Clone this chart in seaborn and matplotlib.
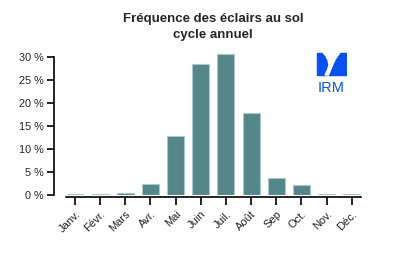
import matplotlib
matplotlib.use("Agg")
import matplotlib.pyplot as plt
import seaborn as sns
import pandas as pd
from matplotlib.patches import Rectangle, Polygon

mois = ["Janv.", "Févr.", "Mars", "Avr.", "Mai", "Juin", "Juil.", "Août", "Sep", "Oct.", "Nov.", "Déc."]
frequence = [0.2, 0.2, 0.5, 2.5, 12.8, 28.4, 30.7, 17.9, 3.8, 2.2, 0.2, 0.2]
yticks = [0, 5, 10, 15, 20, 25, 30]
ytick_labels = ["0 %", "5 %", "10 %", "15 %", "20 %", "25 %", "30 %"]

sns.set_style("white")
plt.rcParams["font.family"] = ["Liberation Sans", "DejaVu Sans"]

df = pd.DataFrame({"mois": mois, "freq": frequence})

fig = plt.figure(figsize=(4.0, 2.66), dpi=100)
ax = fig.add_axes([0.135, 0.266, 0.77, 0.538])
sns.barplot(data=df, x="mois", y="freq", order=mois, color="#558689", saturation=1,
            width=0.67, edgecolor="#a9c9c9", linewidth=0.8, ax=ax)

for s in ["top", "right"]:
    ax.spines[s].set_visible(False)
ax.spines["bottom"].set_position(("outward", 1.5))
ax.spines["left"].set_bounds(0, 30)
ax.spines["bottom"].set_bounds(-0.36, 11.36)
for s in ["left", "bottom"]:
    ax.spines[s].set_color("black")
    ax.spines[s].set_linewidth(1.2)

ax.set_xlim(-0.835, 11.41)
ax.set_ylim(0, 31)
ax.set_xlabel("")
ax.set_ylabel("")
ax.tick_params(axis="both", which="major", length=5, width=1.2, color="black",
               direction="out", left=True, bottom=True, pad=2.5, labelcolor="#222222")
ax.tick_params(axis="x", length=6)
ax.set_yticks(yticks)
ax.set_yticklabels(ytick_labels, fontsize=7.8)
ax.set_xticks(range(len(mois)))
ax.set_xticklabels(mois, fontsize=8, rotation=45, ha="right", rotation_mode="anchor")

fig.text(0.533, 0.897, "Fréquence des éclairs au sol\ncycle annuel", ha="center", va="center",
         fontsize=9.5, fontweight="bold", linespacing=1.45)

# IRM logo (drawn in pixel coordinates of its own small axes)
lax = fig.add_axes([316/400, 1-96/266, 31/400, 44/266])
lax.set_xlim(316, 347)
lax.set_ylim(96, 52)
lax.axis("off")
lax.add_patch(Rectangle((316.5, 52.5), 30, 22.5, color="#0a50f0"))
lax.add_patch(Polygon([[323, 52.5], [326, 56], [328, 60], [329, 65], [327.5, 70], [325, 75],
                       [328.5, 75], [331, 69], [333, 64], [336, 58], [340, 52.5]],
                      closed=True, color="white"))
lax.text(331.5, 88, "IRM", ha="center", va="center", color="#0a50f0", fontsize=10.5)

fig.savefig("out.png", dpi=100)
